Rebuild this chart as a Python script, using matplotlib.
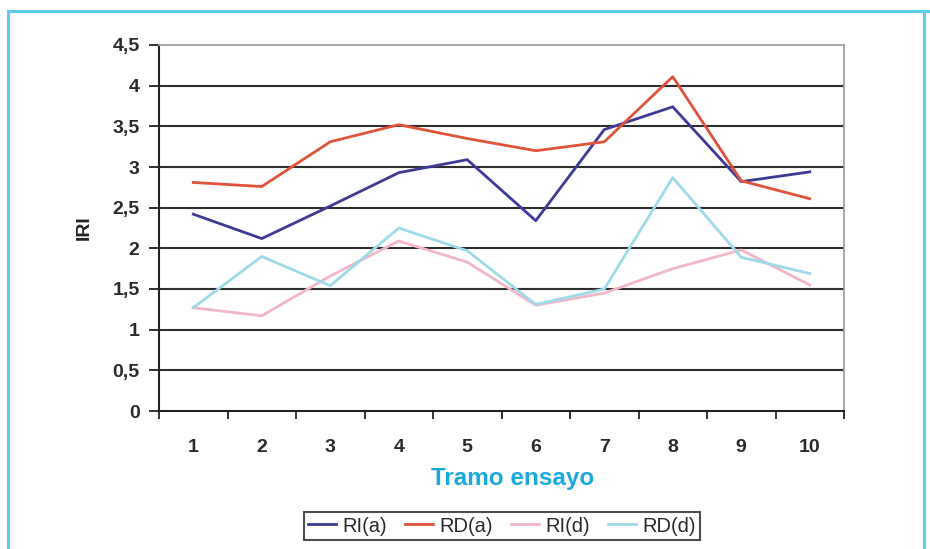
import matplotlib
matplotlib.use("Agg")
import matplotlib.pyplot as plt
from matplotlib.lines import Line2D

plt.rcParams['font.family'] = ['Liberation Sans', 'DejaVu Sans']

tramos = ["1", "2", "3", "4", "5", "6", "7", "8", "9", "10"]
ri_a = [2.42, 2.12, 2.52, 2.93, 3.09, 2.34, 3.46, 3.74, 2.82, 2.94]
rd_a = [2.81, 2.76, 3.31, 3.52, 3.35, 3.20, 3.31, 4.11, 2.83, 2.61]
ri_d = [1.27, 1.17, 1.66, 2.09, 1.83, 1.30, 1.45, 1.75, 1.98, 1.55]
rd_d = [1.27, 1.90, 1.54, 2.25, 1.97, 1.31, 1.50, 2.87, 1.89, 1.69]
y_ticks = [0, 0.5, 1, 1.5, 2, 2.5, 3, 3.5, 4, 4.5]
y_labels = ["0", "0,5", "1", "1,5", "2", "2,5", "3", "3,5", "4", "4,5"]

series = [
    ("RI(a)", ri_a, "#3d3a96"),
    ("RD(a)", rd_a, "#e0523a"),
    ("RI(d)", ri_d, "#f2b6c9"),
    ("RD(d)", rd_d, "#9edbe8"),
]

fig = plt.figure(figsize=(9.3, 5.49), dpi=100)
fig.patch.set_facecolor("white")

# light blue frame around the figure
frame_col = "#5fcbec"
fig.add_artist(Line2D([7.5/930, 7.5/930], [0, 1 - 11/549], transform=fig.transFigure,
                      color=frame_col, lw=2.2))
fig.add_artist(Line2D([7.5/930, 1], [1 - 11/549, 1 - 11/549], transform=fig.transFigure,
                      color=frame_col, lw=2.2))
fig.add_artist(Line2D([924/930, 924/930], [0, 1 - 11/549], transform=fig.transFigure,
                      color=frame_col, lw=2.2))

ax = fig.add_axes([159/930, 1 - 411/549, (844 - 159)/930, (411 - 45)/549])
ax.set_facecolor("white")

x = list(range(len(tramos)))
for name, vals, col in series:
    ax.plot(x, vals, color=col, lw=2.0, label=name, zorder=3)

ax.set_xlim(-0.5, len(tramos) - 0.5)
ax.set_ylim(0, 4.5)
ax.set_yticks(y_ticks)
ax.set_yticklabels(y_labels, fontweight="bold")
ax.set_xticks(x)
ax.set_xticklabels(tramos, fontweight="bold")
ax.set_xticks([i - 0.5 for i in range(len(tramos) + 1)], minor=True)

for yv in y_ticks[1:-1]:
    ax.axhline(yv, color="#2e2e2e", lw=1.5, zorder=1)

for side in ["top", "right"]:
    ax.spines[side].set_color("#a0a0a0")
    ax.spines[side].set_linewidth(1.3)
for side in ["left", "bottom"]:
    ax.spines[side].set_color("#222222")
    ax.spines[side].set_linewidth(1.5)

ax.tick_params(axis="y", length=7, width=1.3, color="#222222", labelsize=14,
               labelcolor="#2a2a2a", pad=7)
ax.tick_params(axis="x", which="major", length=0, labelsize=14,
               labelcolor="#2a2a2a", pad=20)
ax.tick_params(axis="x", which="minor", length=6, width=1.3, color="#222222")

ax.set_ylabel("IRI", fontsize=14, fontweight="bold", color="#222222", labelpad=14)
fig.text(513/930, 1 - 478/549, "Tramo ensayo", ha="center", va="center",
         fontsize=17.5, fontweight="bold", color="#1ba8dc")

leg = fig.legend(loc="center", bbox_to_anchor=(502/930, 1 - 526/549), ncol=4,
                 frameon=True, fancybox=False, fontsize=14.5, handlelength=1.4,
                 handletextpad=0.3, columnspacing=0.9, borderpad=0.2,
                 borderaxespad=0)
leg.get_frame().set_edgecolor("#222222")
leg.get_frame().set_linewidth(1.5)
for t in leg.get_texts():
    t.set_color("#2a2a2a")

fig.savefig("out.png", dpi=100, facecolor="white")
